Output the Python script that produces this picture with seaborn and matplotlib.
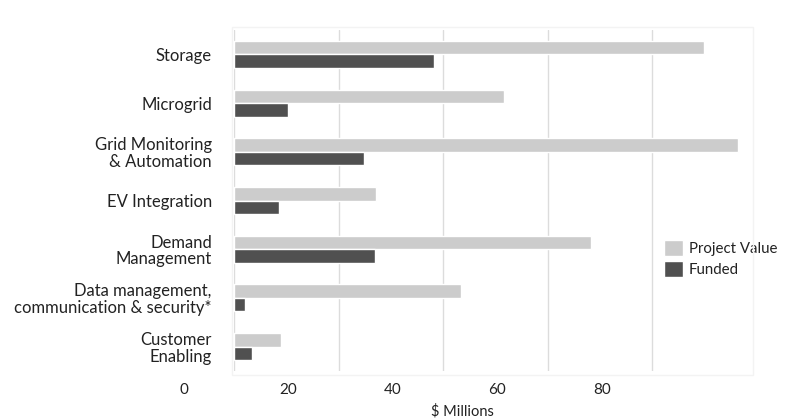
import pandas as pd
import matplotlib
matplotlib.use("Agg")
import matplotlib.pyplot as plt
import matplotlib.transforms as mtransforms
from matplotlib.patches import Rectangle
import seaborn as sns

# Data ($ millions)
categories = [
    "Storage",
    "Microgrid",
    "Grid Monitoring\n& Automation",
    "EV Integration",
    "Demand\nManagement",
    "Data management,\ncommunication & security*",
    "Customer\nEnabling",
]
project_value = [90.0, 51.7, 96.5, 27.2, 68.3, 43.4, 9.0]
funded = [38.3, 10.4, 24.9, 8.7, 27.0, 2.2, 3.5]
tick_values = [0, 20, 40, 60, 80]
tick_labels = ["0", "20", "40", "60", "80"]

df = pd.DataFrame({
    "category": categories * 2,
    "value": project_value + funded,
    "series": ["Project Value"] * len(categories) + ["Funded"] * len(categories),
})

sns.set_theme(style="white")
plt.rcParams["font.family"] = ["Lato", "DejaVu Sans"]

fig = plt.figure(figsize=(7.87, 4.2), dpi=100)
ax = fig.add_axes([234 / 787, 1 - 371 / 420, (753 - 234) / 787, (371 - 30) / 420])

sns.barplot(
    data=df, y="category", x="value", hue="series", orient="h",
    palette={"Project Value": "#cccccc", "Funded": "#505050"},
    width=0.555, saturation=1, ax=ax, legend=True,
)

ax.set_xlim(0, 99.3)
ax.set_ylim(6.5, -0.5)
ax.set_xticks(tick_values)
ax.set_xticklabels([])
ax.tick_params(axis="x", length=0)
ax.tick_params(axis="y", length=0, pad=16, labelsize=12, labelcolor="#222222")
for t in ax.get_yticklabels():
    t.set_linespacing(1.05)
ax.grid(axis="x", color="#dcdcdc", linewidth=1.0)
ax.set_axisbelow(True)
for s in ax.spines.values():
    s.set_visible(False)
ax.set_ylabel("")
ax.set_xlabel("")

# tick labels sit half a step left of their gridlines in the original
trans = mtransforms.blended_transform_factory(ax.transData, fig.transFigure)
for v, lab in zip(tick_values, tick_labels):
    ax.text(v - 9.6, 1 - 390 / 420, lab, transform=trans, ha="center", va="center",
            fontsize=11, color="#222222", clip_on=False)
fig.text(462 / 787, 1 - 411 / 420, "$ Millions", ha="center", va="center",
         fontsize=10.5, color="#222222")

# faint plot-area frame
fig.patches.append(Rectangle((232 / 787, 1 - 375 / 420), (753 - 232) / 787, (375 - 27) / 420,
                             transform=fig.transFigure, fill=False, edgecolor="#f3f3f3",
                             linewidth=1))

handles, labels = ax.get_legend_handles_labels()
ax.legend(handles, labels, loc="upper left", bbox_to_anchor=(650 / 787, 1 - 226 / 420),
          bbox_transform=fig.transFigure, frameon=False, handlelength=1.3,
          handleheight=1.3, handletextpad=0.4, labelspacing=0.35, fontsize=10.8,
          labelcolor="#222222")

fig.savefig("out.png", dpi=100)
